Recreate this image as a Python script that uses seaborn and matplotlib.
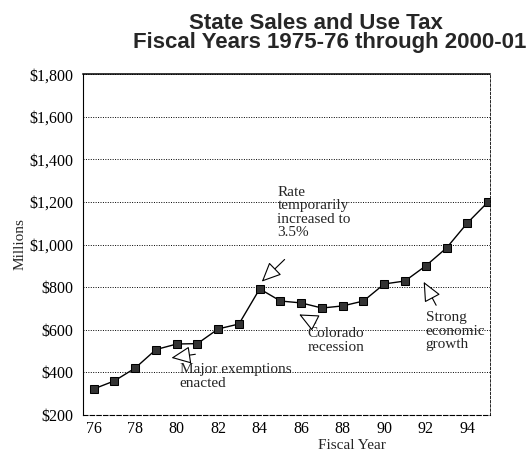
import matplotlib
matplotlib.use("Agg")
import matplotlib.pyplot as plt
import seaborn as sns
import numpy as np
import pandas as pd

# fiscal years (76 = 1975-76 ... 95 = 1994-95) and revenue, $ millions
years = [76, 77, 78, 79, 80, 81, 82, 83, 84, 85, 86, 87, 88, 89, 90, 91, 92, 93, 94, 95]
revenue = [322, 360, 420, 507, 533, 535, 604, 627, 792, 735, 726, 702, 712, 735, 815, 829, 900, 984, 1101, 1200]
x_tick_labels = ["76", "78", "80", "82", "84", "86", "88", "90", "92", "94"]
y_ticks = [200, 400, 600, 800, 1000, 1200, 1400, 1600, 1800]

df = pd.DataFrame({"year": years, "revenue": revenue})

sns.set_style("white")
serif = ["Liberation Serif", "DejaVu Serif"]
plt.rcParams["font.family"] = serif

fig = plt.figure(figsize=(5.27, 4.55), dpi=100)
ax = fig.add_axes([0.158, 0.088, 0.772, 0.749])

sns.lineplot(data=df, x="year", y="revenue", ax=ax, color="black", lw=1,
             marker="s", markersize=6, markerfacecolor="#333333",
             markeredgecolor="black")

ax.set_xlim(75.5, 95.1)
ax.set_ylim(200, 1800)
ax.set_xticks(range(76, 96, 2))
ax.set_xticklabels(x_tick_labels)
ax.set_xticks(range(76, 96), minor=True)
ax.set_yticks(y_ticks)
ax.set_yticklabels(["${:,}".format(v) for v in y_ticks])
ax.set_yticks(range(200, 1801, 100), minor=True)
ax.tick_params(axis="both", which="both", direction="inout", length=7, width=0.8,
               labelsize=11.5, colors="black")
ax.tick_params(axis="x", which="major", pad=1)

for v in y_ticks[1:]:
    ax.axhline(v, color="black", lw=0.7, ls=(0, (1, 1.5)), zorder=0)

for s in ax.spines.values():
    s.set_color("black")
    s.set_linewidth(0.8)
ax.spines["top"].set_linewidth(1.1)
ax.spines["bottom"].set_linestyle((0, (4, 2)))
ax.spines["right"].set_linestyle((0, (3, 2)))
ax.spines["right"].set_linewidth(0.6)

ax.set_xlabel("Fiscal Year", fontsize=11)
ax.xaxis.set_label_coords(0.66, -0.072)
ax.set_ylabel("Millions", fontsize=11, labelpad=2)

arrow = dict(arrowstyle="-|>,head_length=1.1,head_width=0.5", fc="white",
             ec="black", lw=0.8, shrinkA=0, shrinkB=0, mutation_scale=11)

ax.text(84.85, 1275, "Rate\ntemporarily\nincreased to\n3.5%", fontsize=11, va="top",
        linespacing=1.05)
ax.annotate("", xy=(84.1, 826), xytext=(85.2, 930), arrowprops=arrow)

ax.text(86.3, 612, "Colorado\nrecession", fontsize=11, va="top", linespacing=1.05)
ax.annotate("", xy=(85.9, 672), xytext=(86.7, 632), arrowprops=arrow)

ax.text(92.0, 688, "Strong\neconomic\ngrowth", fontsize=11, va="top", linespacing=1.05)
ax.annotate("", xy=(91.9, 825), xytext=(92.5, 715), arrowprops=arrow)

ax.text(80.15, 443, "Major exemptions\nenacted", fontsize=11, va="top", linespacing=1.05)
ax.annotate("", xy=(79.75, 468), xytext=(80.9, 485), arrowprops=arrow)

title_font = ["Liberation Sans", "DejaVu Sans"]
fig.text(0.599, 0.948, "State Sales and Use Tax", ha="center", va="center",
         fontsize=16, fontweight="bold", family=title_font)
fig.text(0.626, 0.906, "Fiscal Years 1975-76 through 2000-01", ha="center", va="center",
         fontsize=16, fontweight="bold", family=title_font)

fig.savefig("out.png", dpi=100)
